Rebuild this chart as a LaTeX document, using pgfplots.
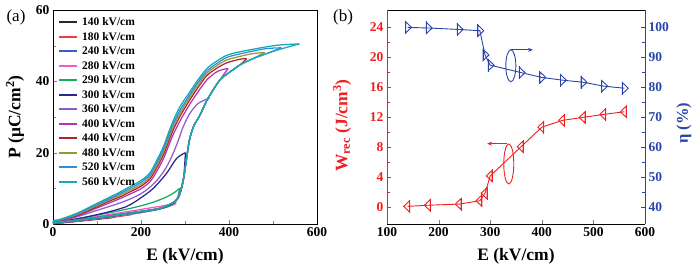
\documentclass[border=0pt]{standalone}
\usepackage{pgfplots}
\pgfplotsset{compat=1.18}
\usepackage{fontspec}
\setmainfont{Liberation Serif}
\usetikzlibrary{arrows.meta}
\definecolor{c140}{RGB}{40,40,40}
\definecolor{c180}{RGB}{240,60,60}
\definecolor{c240}{RGB}{60,90,200}
\definecolor{c280}{RGB}{240,90,200}
\definecolor{c290}{RGB}{20,170,100}
\definecolor{c300}{RGB}{40,40,140}
\definecolor{c360}{RGB}{150,90,200}
\definecolor{c400}{RGB}{180,50,180}
\definecolor{c440}{RGB}{170,40,40}
\definecolor{c480}{RGB}{150,150,60}
\definecolor{c520}{RGB}{50,140,220}
\definecolor{c560}{RGB}{20,170,180}
\definecolor{wred}{RGB}{240,30,30}
\definecolor{wblue}{RGB}{40,70,170}
\begin{document}
\begin{tikzpicture}[x=1pt,y=1pt]
\useasboundingbox (0,0) rectangle (697,269);
\node[font=\fontsize{17}{17}\selectfont, anchor=center] at (16,252) {(a)};
\node[font=\fontsize{17}{17}\selectfont, anchor=center] at (343,252) {(b)};
% ---------------- panel (a)
\begin{axis}[
  at={(53pt,45pt)}, anchor=south west, scale only axis, width=264pt, height=214pt,
  xmin=0, xmax=600, ymin=0, ymax=60,
  xtick={0,200,400,600}, minor xtick={100,300,500},
  ytick={0,20,40,60}, minor ytick={10,30,50},
  tick align=inside, tick pos=left,
  /pgf/number format/assume math mode=true,
  ticklabel style={font=\fontsize{13.5}{13.5}\selectfont\bfseries},
  xlabel={E (kV/cm)}, ylabel={P (μC/cm\textsuperscript{2})},
  label style={font=\fontsize{17.5}{17.5}\selectfont\bfseries},
  xlabel style={at={([yshift=-36pt]axis description cs:0.5,0)}, anchor=base},
  ylabel style={at={([xshift=-38pt]axis description cs:0,0.5)}, anchor=center},
  legend style={at={([yshift=-4.5pt]axis description cs:0.008,1)}, anchor=north west,
    draw=none, fill=none, font=\fontsize{11.5}{11.5}\selectfont\bfseries,
    row sep=3.5pt, column sep=4pt,
    nodes={inner sep=0pt, text height=9pt, text depth=2pt}},
  legend cell align=left,
  legend image code/.code={\draw[#1,line width=1.9pt] (0pt,0pt) -- (18pt,0pt);},
  every axis plot/.append style={line width=1.25pt, smooth, tension=0.5},
]
% 140
\addplot[c140, forget plot] coordinates {(0,0.1)(50,0.7)(100,1.3)(140,1.9)};
\addplot[c140] coordinates {(140,1.9)(100,1.5)(50,0.8)(0,0.2)};
\addlegendentry{140 kV/cm}
% 180
\addplot[c180, forget plot] coordinates {(0,0.1)(50,0.7)(100,1.4)(150,2.1)(180,2.7)};
\addplot[c180] coordinates {(180,2.7)(150,2.4)(100,1.7)(50,0.9)(0,0.3)};
\addlegendentry{180 kV/cm}
% 240
\addplot[c240, forget plot] coordinates {(0,0.1)(50,0.8)(100,1.5)(150,2.3)(200,3.2)(240,4.2)};
\addplot[c240] coordinates {(240,4.2)(200,3.6)(150,2.8)(100,1.9)(50,1.0)(0,0.3)};
\addlegendentry{240 kV/cm}
% 280
\addplot[c280, forget plot] coordinates {(0,0.1)(50,0.8)(100,1.5)(150,2.3)(200,3.2)(243,4.2)(270,5.2)(280,5.8)};
\addplot[c280] coordinates {(280,5.8)(250,5.1)(200,4.1)(150,3.1)(100,2.1)(50,1.2)(0,0.4)};
\addlegendentry{280 kV/cm}
% 290
\addplot[c290, forget plot] coordinates {(0,0.2)(50,0.9)(100,1.6)(150,2.4)(200,3.3)(243,4.2)(270,5.4)(282,7)(288,10)};
\addplot[c290] coordinates {(288,10)(273,8.6)(251,7.2)(220,5.8)(180,4.5)(130,3.2)(80,2)(30,0.8)(0,0.4)};
\addlegendentry{290 kV/cm}
% 300
\addplot[c300, forget plot] coordinates {(0,0.2)(50,0.9)(100,1.7)(150,2.5)(200,3.4)(243,4.3)(270,5.6)(285,7.3)(296,12)(301,20)};
\addplot[c300] coordinates {(301,20)(281,18.4)(258,14.2)(228,10)(198,7.2)(167,4.9)(120,3.2)(60,1.6)(0,0.4)};
\addlegendentry{300 kV/cm}
% 360
\addplot[c360, forget plot] coordinates {(0,0.3)(50,1.0)(100,1.8)(150,2.6)(200,3.5)(243,4.4)(270,5.8)(285,7.5)(296,12.3)(302,17)(310,23.5)(320,27.5)(334,30.5)(349,34.5)(355,35.3)};
\addplot[c360] coordinates {(355,35.3)(330,33.8)(311,31)(296,27.3)(285,23.5)(272,19.5)(258,16)(240,12.8)(220,10.3)(200,8.5)(175,7)(150,5.8)(130,5)(92,3.5)(54,2)(16,0.8)(0,0.5)};
\addlegendentry{360 kV/cm}
% 400
\addplot[c400, forget plot] coordinates {(0,0.3)(50,1.0)(100,1.8)(150,2.6)(200,3.5)(243,4.4)(270,5.8)(285,7.5)(296,12.3)(302,17)(310,23.5)(320,27.5)(334,30.5)(349,34.5)(364,37.6)(380,40.5)(398,43.6)};
\addplot[c400] coordinates {(398,43.6)(385,43.3)(370,42.5)(349,40.3)(327,36.6)(308,33)(289,29)(274,25.3)(262,21.7)(251,18.3)(236,14.8)(220,11.8)(200,9.9)(175,8.4)(150,7)(130,6)(92,4.1)(54,2.2)(16,0.9)(0,0.6)};
\addlegendentry{400 kV/cm}
% 440
\addplot[c440, forget plot] coordinates {(0,0.3)(50,1.0)(100,1.8)(150,2.6)(200,3.5)(243,4.4)(270,5.8)(285,7.5)(296,12.3)(302,17)(310,23.5)(320,27.5)(334,30.5)(349,34.5)(364,37.6)(380,40.5)(395,42)(425,44.6)(440,46.4)};
\addplot[c440] coordinates {(440,46.4)(425,46.2)(395,45.2)(370,43.5)(349,41.5)(327,37.8)(308,34.2)(289,30.3)(274,26.6)(262,22.9)(251,19.4)(236,15.8)(220,12.6)(200,10.6)(175,9)(150,7.5)(130,6.5)(92,4.4)(54,2.4)(16,1.0)(0,0.7)};
\addlegendentry{440 kV/cm}
% 480
\addplot[c480, forget plot] coordinates {(0,0.3)(50,1.0)(100,1.8)(150,2.6)(200,3.5)(243,4.4)(270,5.8)(285,7.5)(296,12.3)(302,17)(310,23.5)(320,27.5)(334,30.5)(349,34.5)(364,37.6)(380,40.5)(395,42)(425,44.6)(455,46.4)(481,48.1)};
\addplot[c480] coordinates {(481,48.1)(455,47.8)(425,47)(395,46)(370,44.2)(349,42.2)(327,38.6)(308,35)(289,31.2)(274,27.5)(262,23.8)(251,20.2)(236,16.5)(220,13.2)(200,11.1)(175,9.5)(150,8)(130,6.9)(92,4.7)(54,2.6)(16,1.1)(0,0.8)};
\addlegendentry{480 kV/cm}
% 520
\addplot[c520, forget plot] coordinates {(0,0.3)(50,1.0)(100,1.8)(150,2.6)(200,3.5)(243,4.4)(270,5.8)(285,7.5)(296,12.3)(302,17)(310,23.5)(320,27.5)(334,30.5)(349,34.5)(364,37.6)(380,40.5)(395,42)(425,44.6)(455,46.4)(486,47.8)(519,49.4)};
\addplot[c520] coordinates {(519,49.4)(486,49.2)(455,48.5)(425,47.7)(395,46.7)(370,44.8)(349,42.8)(327,39.3)(308,35.7)(289,32)(274,28.3)(262,24.6)(251,21)(236,17.2)(220,13.8)(200,11.7)(175,10)(150,8.4)(130,7.2)(92,5)(54,2.8)(16,1.2)(0,0.9)};
\addlegendentry{520 kV/cm}
% 560
\addplot[c560, forget plot] coordinates {(0,0.3)(50,1.0)(100,1.8)(150,2.6)(200,3.5)(243,4.4)(270,5.8)(285,7.5)(296,12.3)(302,17)(310,23.5)(320,27.5)(334,30.5)(349,34.5)(364,37.6)(380,40.5)(395,42)(425,44.6)(455,46.4)(486,47.8)(516,49)(560,50.5)};
\addplot[c560] coordinates {(560,50.5)(516,50.2)(486,49.7)(455,49)(425,48.3)(395,47.3)(370,45.5)(349,43.5)(327,40)(308,36.5)(289,33)(274,29.2)(262,25.4)(251,21.7)(236,17.9)(220,14.3)(200,12.2)(175,10.5)(150,8.8)(130,7.6)(92,5.3)(54,3)(16,1.3)(0,1.0)};
\addlegendentry{560 kV/cm}
\end{axis}
% ---------------- panel (b), left axis
\begin{axis}[
  at={(387pt,45pt)}, anchor=south west, scale only axis, width=258pt, height=214pt,
  xmin=100, xmax=600, ymin=-2.2, ymax=26.3,
  xtick={100,200,...,600}, ytick={0,4,...,24}, minor ytick={2,6,...,22},
  separate axis lines, axis x line=box, axis y line*=left,
  x axis line style={-}, y axis line style={-,wred},
  xtick pos=left, ytick pos=left, tick align=inside,
  ytick style={wred}, yticklabel style={wred},
  /pgf/number format/assume math mode=true,
  ticklabel style={font=\fontsize{13.5}{13.5}\selectfont\bfseries},
  xlabel={E (kV/cm)}, ylabel={W\textsubscript{rec} (J/cm\textsuperscript{3})},
  label style={font=\fontsize{17.5}{17.5}\selectfont\bfseries},
  xlabel style={at={([yshift=-36pt]axis description cs:0.5,0)}, anchor=base},
  ylabel style={at={([xshift=-45pt]axis description cs:0,0.46)}, anchor=center, wred},
]
\addplot[wred, line width=0.9pt, mark=triangle, mark size=6.5pt,
  mark options={solid, rotate=90, yscale=0.6, fill=white}] coordinates {
(140,0.15)(180,0.3)(240,0.45)(280,0.9)(290,1.9)(300,4.2)(360,8.1)(400,10.7)(440,11.6)(480,12.0)(520,12.4)(560,12.75)};
\addplot[wred, line width=0.9pt, only marks, mark=|, mark size=6.5pt,
  mark options={xshift=2pt}] coordinates {
(140,0.15)(180,0.3)(240,0.45)(280,0.9)(290,1.9)(300,4.2)(360,8.1)(400,10.7)(440,11.6)(480,12.0)(520,12.4)(560,12.75)};
\draw[wred, line width=0.9pt] (axis cs:336,5.8) ellipse [x radius=5pt, y radius=20pt];
\draw[wred, line width=0.9pt, -{Stealth[length=5pt,width=4pt]}] (axis cs:333,8.5) -- (axis cs:294,8.5);
\end{axis}
% ---------------- panel (b), right axis
\begin{axis}[
  at={(387pt,45pt)}, anchor=south west, scale only axis, width=258pt, height=214pt,
  xmin=100, xmax=600, ymin=34.4, ymax=105.8,
  ytick={40,50,...,100}, minor ytick={45,55,...,95},
  axis x line=none, axis y line*=right,
  y axis line style={-,wblue}, ytick pos=right, tick align=inside,
  ytick style={wblue}, yticklabel style={wblue},
  /pgf/number format/assume math mode=true,
  ticklabel style={font=\fontsize{13.5}{13.5}\selectfont\bfseries},
  ylabel={η (\%)},
  label style={font=\fontsize{16.5}{16.5}\selectfont\bfseries},
  ylabel style={at={([xshift=39pt]axis description cs:1,0.47)}, anchor=center, wblue},
]
\addplot[wblue, line width=0.9pt, mark=triangle, mark size=6.5pt,
  mark options={solid, rotate=-90, yscale=0.6, fill=white}] coordinates {
(140,100)(180,99.8)(240,99.3)(280,98.9)(290,90.8)(300,87.4)(360,84.9)(400,83.3)(440,82.4)(480,81.7)(520,80.4)(560,79.7)};
\addplot[wblue, line width=0.9pt, only marks, mark=|, mark size=6.5pt,
  mark options={xshift=-2pt}] coordinates {
(140,100)(180,99.8)(240,99.3)(280,98.9)(290,90.8)(300,87.4)(360,84.9)(400,83.3)(440,82.4)(480,81.7)(520,80.4)(560,79.7)};
\draw[wblue, line width=0.9pt] (axis cs:340,87.2) ellipse [x radius=5pt, y radius=16pt];
\draw[wblue, line width=0.9pt, -{Stealth[length=5pt,width=4pt]}] (axis cs:340,92.5) -- (axis cs:383,92.5);
\end{axis}
\end{tikzpicture}
\end{document}
